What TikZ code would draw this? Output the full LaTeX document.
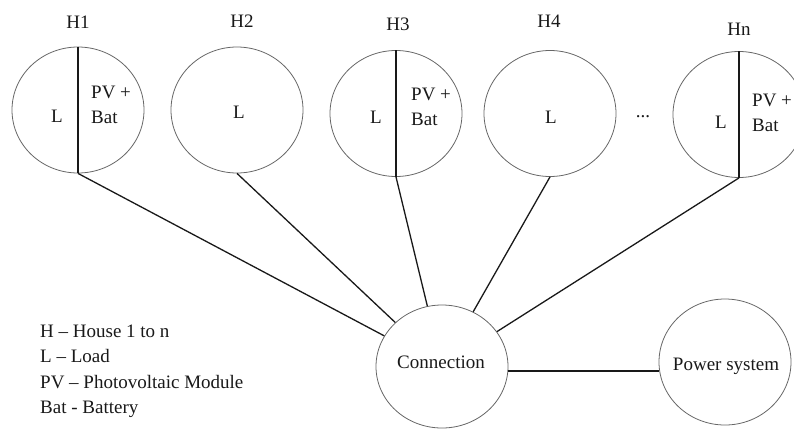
\documentclass[tikz,border=0pt]{standalone}
\usepackage{fontspec}
\setmainfont{Liberation Serif}
\usetikzlibrary{shapes.geometric}
\begin{document}
\begin{tikzpicture}[x=1pt,y=-1pt,
  every node/.style={font=\fontsize{19}{25}\selectfont, inner sep=0pt, text=black!90},
  circ/.style={draw=black!60, line width=0.8pt, ellipse, minimum width=132pt, minimum height=126pt},
  wire/.style={draw=black!90, line width=1.3pt},
  divider/.style={draw=black!90, line width=1.2pt},
  pvbox/.style={align=left, anchor=west},
  legend/.style={anchor=base west}]
\useasboundingbox (0,0) rectangle (794,429);

% house circles
\node[circ] (h1) at (78,110) {};
\node[circ] (h2) at (237,110) {};
\node[circ] (h3) at (396,113.5) {};
\node[circ] (h4) at (550,113.5) {};
\node[circ] (hn) at (739,114.5) {};

% titles
\node (t1) at (78,22) {H1};
\node (t2) at (242,21) {H2};
\node (t3) at (398,24) {H3};
\node (t4) at (549,21) {H4};
\node (tn) at (739,29) {Hn};

% dividers
\draw[divider] (h1.north) -- (h1.south);
\draw[divider] (h3.north) -- (h3.south);
\draw[divider] (hn.north) -- (hn.south);

% inner texts
\node (l1) at (57,116) {L};
\node[pvbox] (p1) at (91,105) {PV +\\Bat};
\node (l2) at (239,112) {L};
\node (l3) at (376,117) {L};
\node[pvbox] (p3) at (411,107) {PV +\\Bat};
\node (l4) at (551,117) {L};
\node (dots) at (643,117) {...};
\node (ln) at (721,122) {L};
\node[pvbox] (pn) at (752,113) {PV +\\Bat};

% connection and power system
\node[circ, minimum height=123pt] (conn) at (442,366.5) {};
\node (conntext) at (441,362) {Connection};
\node[circ] (pow) at (725,362) {};
\node[anchor=base] (powtext) at (726,370) {Power system};

% connectors
\draw[wire] (h1.south) -- (conn);
\draw[wire] (h2.south) -- (conn);
\draw[wire] (h3.south) -- (conn);
\draw[wire] (h4.south) -- (conn);
\draw[wire] (hn.south) -- (conn);
\path (conn.center) ++(0,4.5) coordinate (cy);
\draw[wire] (conn.east |- cy) -- (pow.west |- cy);

% legend
\node[legend] (g1) at (40,337) {H -- House 1 to n};
\node[legend] (g2) at (40,362.5) {L -- Load};
\node[legend] (g3) at (40,388) {PV -- Photovoltaic Module};
\node[legend] (g4) at (40,413) {Bat - Battery};
\end{tikzpicture}
\end{document}
